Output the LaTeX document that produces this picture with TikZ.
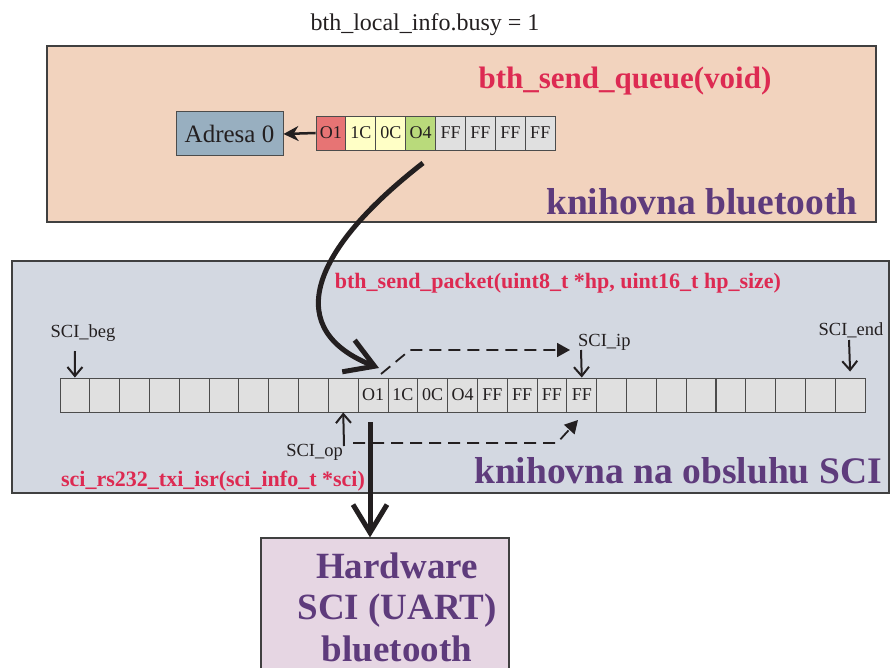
\documentclass[tikz,border=0pt]{standalone}
\usepackage{fontspec}
\setmainfont{Liberation Serif}
\usetikzlibrary{arrows.meta}
\definecolor{peachbg}{HTML}{F2D3BE}
\definecolor{scibg}{HTML}{D3D8E1}
\definecolor{hwbg}{HTML}{E6D6E3}
\definecolor{fncol}{HTML}{DD2A52}
\definecolor{libcol}{HTML}{5E3B7C}
\definecolor{addrbg}{HTML}{98AFC0}
\definecolor{cellred}{HTML}{E77474}
\definecolor{cellyel}{HTML}{FFFFC6}
\definecolor{cellgrn}{HTML}{B9DA7B}
\definecolor{cellgry}{HTML}{E0E0E0}
\definecolor{ink}{HTML}{231F20}
\begin{document}
\begin{tikzpicture}[x=1pt,y=-1pt,
  every node/.style={text=ink},
  panel/.style={draw=black!75, line width=1.2pt},
  cell/.style={draw=black!70, line width=0.9pt, fill=cellgry, minimum width=29.8pt,
    minimum height=34pt, inner sep=0pt, font=\fontsize{18}{18}\selectfont},
  fn/.style={text=fncol, inner sep=0pt, font=\bfseries\fontsize{22}{22}\selectfont},
  lib/.style={text=libcol, inner sep=0pt, font=\bfseries\fontsize{37.5}{37.5}\selectfont},
  ptr/.style={inner sep=0pt, font=\fontsize{18.5}{18.5}\selectfont},
  ptrarrow/.style={draw=ink, line width=2pt, -{Straight Barb[length=9pt,width=15pt]}},
  dasharrow/.style={draw=ink, line width=1.8pt, dash pattern=on 12pt off 7pt,
    -{Triangle[length=13pt,width=14pt]}},
  flow/.style={draw=ink, line width=5pt, -{Straight Barb[length=28pt,width=34pt]}}]
\useasboundingbox (0,0) rectangle (890,668);
\clip (0,0) rectangle (890,668);

% bluetooth library panel
\draw[panel, fill=peachbg] (47,46) rectangle (876,222);
\node[font=\fontsize{24}{24}\selectfont, inner sep=0pt] (busy) at (425,25) {bth\_local\_info.busy = 1};
\node[fn, font=\bfseries\fontsize{31}{31}\selectfont] (sendq) at (625,81) {bth\_send\_queue(void)};
\node[lib] (libbt) at (702,202) {knihovna bluetooth};

\node[draw=black!70, line width=1pt, fill=addrbg, minimum width=107pt, minimum height=44pt,
  inner sep=0pt, font=\fontsize{25}{25}\selectfont] (adr) at (229.5,134) {Adresa 0};
\foreach \t/\f [count=\i] in {O1/cellred,1C/cellyel,0C/cellyel,O4/cellgrn,FF/cellgry,FF/cellgry,FF/cellgry,FF/cellgry}
  \node[cell, fill=\f, minimum width=29.9pt] (q\i) at ({316+29.9*(\i-0.5)},133) {\t};
\draw[draw=ink, line width=2.5pt, -{Stealth[length=15pt,width=15pt]}] (q1.west) -- (adr.east);

% SCI library panel
\draw[panel, fill=scibg] (12,261) rectangle (889,493);
\node[fn] (sendp) at (558,283) {bth\_send\_packet(uint8\_t *hp, uint16\_t hp\_size)};
\node[fn] (isr) at (213,481) {sci\_rs232\_txi\_isr(sci\_info\_t *sci)};
\node[lib] (libsci) at (678,471) {knihovna na obsluhu SCI};

% circular buffer
\foreach \i in {1,...,10}
  \node[cell] (c\i) at ({60+29.815*(\i-0.5)},395) {};
\foreach \i in {19,...,27}
  \node[cell] (c\i) at ({60+29.815*(\i-0.5)},395) {};
\foreach \t [count=\i from 11] in {O1,1C,0C,O4,FF,FF,FF,FF}
  \node[cell] (c\i) at ({60+29.815*(\i-0.5)},395) {\t};

% buffer pointers
\node[ptr] (lbeg) at (83,333) {SCI\_beg};
\coordinate (begtop) at (75,351);
\draw[ptrarrow] (begtop) -- (c1.north);
\node[ptr, anchor=west] (lip) at (578,342) {SCI\_ip};
\coordinate (iptop) at (581,350);
\draw[ptrarrow] (iptop) -- (c18.north);
\node[ptr] (lend) at (851,330) {SCI\_end};
\coordinate (endtop) at (849,340);
\draw[ptrarrow] (endtop) -- ([yshift=6pt]c27.north);
\node[ptr, anchor=east] (lop) at (343,452) {SCI\_op};
\coordinate (opbot) at (344,446);
\draw[ptrarrow] (opbot) -- (c10.south);

% pointer movement
\coordinate (ipfrom) at (381,374);
\coordinate (ipbend) at (410,350);
\coordinate (ipto) at (570,350);
\draw[dasharrow] (ipfrom) -- (ipbend) -- (ipto);
\coordinate (opfrom) at (353,443);
\coordinate (opbend) at (557,443);
\coordinate (opto) at (578,420);
\draw[dasharrow] (opfrom) -- (opbend) -- (opto);

% hardware block
\node[draw=black!75, line width=1.2pt, fill=hwbg, minimum width=248pt, minimum height=142pt,
  inner sep=0pt] (hw) at (385,609) {};
\node[align=center, text=libcol, inner sep=0pt,
  font=\bfseries\fontsize{37}{41.5}\selectfont] (hwtext) at (397,607) {Hardware\\SCI (UART)\\bluetooth};

% data flow
\coordinate (qout) at (423,163);
\coordinate (qin) at (379,368);
\draw[flow] (qout) .. controls (305,255) and (285,331) .. (qin);
\coordinate (outtop) at (370,422);
\draw[flow] (outtop) -- (outtop |- hw.north);
\end{tikzpicture}
\end{document}
